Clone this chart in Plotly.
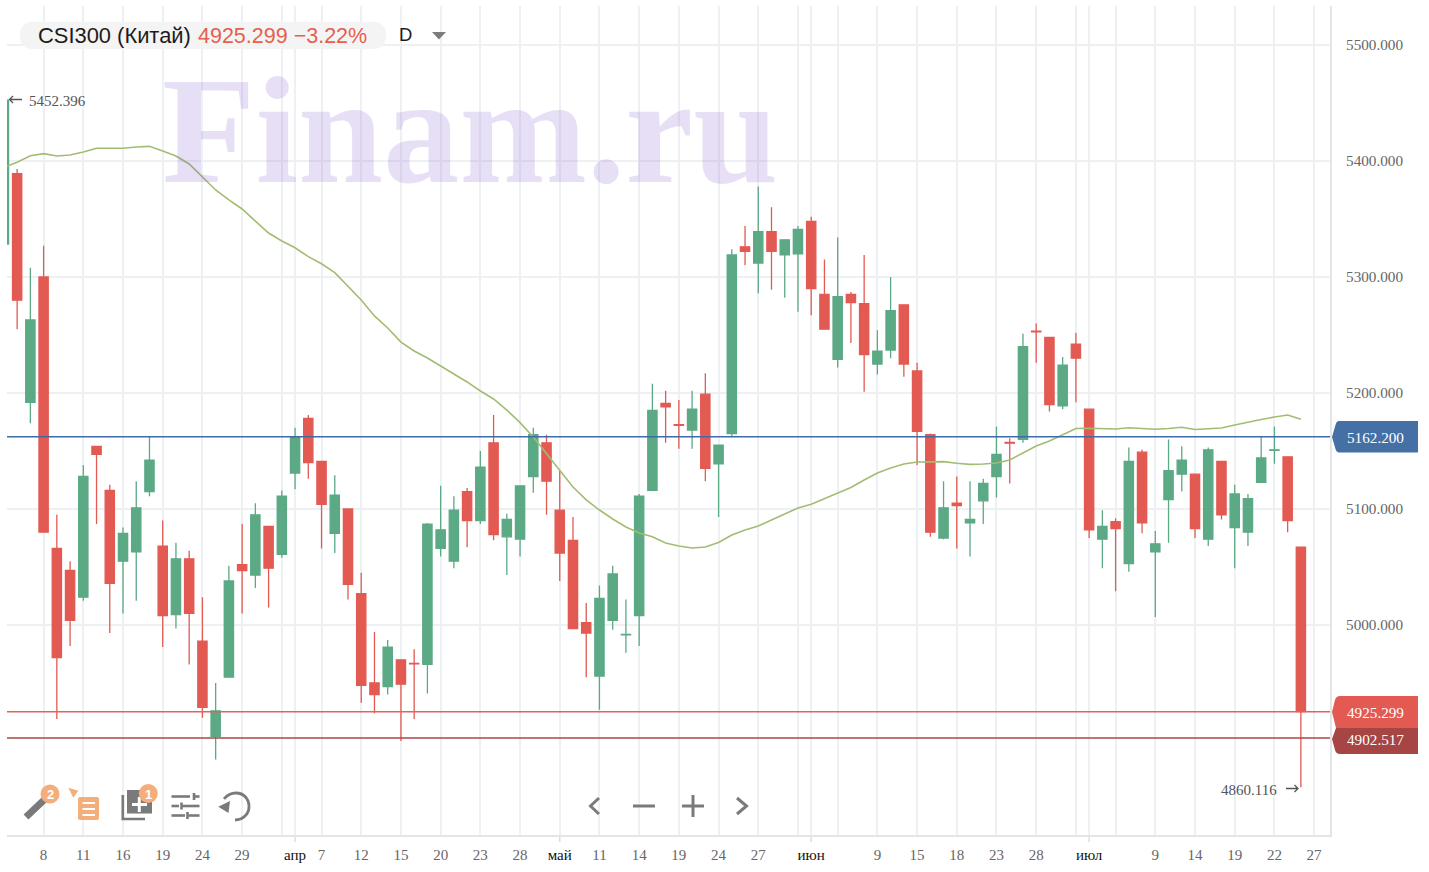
import plotly.graph_objects as go

opens = [5328.4,5389,5192,5300,5066,5047,5024,5154,5116,5055,5063,5115,5068,5009,5057,4986,4904,4955,5052,5043,5085,5061,5131,5178,5141,5079,5100,
 5027,4950,4947,4970,4967,4966,5066,5055,5115,5090,5157,5076,5074,5128,5157,5099,5073,5002,4956,5004,4991.5,5008,
 5116,5191,5172.8,5168,5199,5139,5165,5326,5312,5339,5319,5320,5348,5285,5229,5285,5277,5225,5237,5276,5219,5164,
 5075,5105,5088,5107,5128,5157.3,5160,5253.3,5248,5189,5242,5186,5074,5089,5053,5149,5063,5108,5130,5130,5074,5141,5084,5080,5123,5150.5,5145,5067]
highs = [5452.4,5393,5308,5327,5095,5055,5138,5154,5121,5084,5124,5162,5090,5071,5064,5024,4950,5051,5087,5105,5085,5116,5170,5181,5141,5129,5100,
 5045,4994,4987,4970,4979,5088,5120,5111,5118,5150,5181,5096,5120,5170,5164,5133,5093,5019,5034,5051,5022,5113,
 5208,5202,5194,5202,5217,5155,5324,5344,5378,5360,5332,5344,5352,5315,5334,5287,5319,5254,5300,5276,5226,5165,
 5124,5128,5124,5126,5171,5161,5251,5260,5248,5231,5252,5186,5099,5092,5153,5151,5081,5160,5154,5130,5153,5141,5121,5113,5162,5171,5145,5067]
lows = [5328.4,5255,5174,5080,4919,4982,5021,5087,4993,5010,5021,5111,4981,4997,4966,4920,4884,4955,5010,5032,5015,5058,5117,5126,5066,5062,5022,
 4933,4924,4940,4900,4919,4941,5059,5049,5067,5087,5073,5043,5059,5114,5095,5038,4997,4955,4927,4996,4976,4982,
 5116,5157,5152,5152,5124,5093,5162,5310,5286,5289,5282,5270,5267,5255,5222,5243,5201,5216,5230,5214,5138,5076,
 5074,5066,5059,5087,5110,5122,5157,5226,5184,5186,5192,5075,5049,5029,5046,5079,5007,5071,5115,5075,5068,5091,5049,5068,5123,5139,5080,4860.116]
closes = [5452.4,5280,5263,5080,4972,5004,5128,5147,5036,5079,5101,5142,5008,5057,5010,4929,4926,5038,5047,5095,5049,5111,5162,5140,5104,5112,5035,
 4948,4940,4981,4949,4966.5,5087,5082,5099,5090,5136,5078,5091,5120,5164,5124,5062,4997,4993,5023,5044,4992,5111,
 5185,5188,5172,5186,5135,5155,5319,5322,5339,5322,5332,5341,5290,5255,5283,5278,5233,5236,5271,5225,5167,5080,
 5101,5103,5091,5122,5147,5156.7,5240,5252.7,5190,5224,5230,5082,5085,5083,5141,5088,5070,5133,5142,5083,5151,5095,5113,5109,5144,5151,5090,4925.299]
ma = [5394.5,5398.9,5404.5,5406.3,5404.3,5405.1,5407.7,5410.9,5410.9,5410.9,5412,5412.6,5408.6,5404.3,5397.4,5386.4,5375,5366.4,5358.6,5348.2,5337.9,5331,5325.2,5317.5,5311.4,5303.7,5291.6,5280.2,
 5266.4,5256,5243.9,5236.2,5230.2,5223.3,5216.4,5209.5,5201.7,5194.8,5185.3,5174.4,5162,5147.4,5132.7,5119,5107.8,5099.1,5091.4,5084.5,5079.3,5076.1,5070.7,5068.1,5066.4,5067.2,5071.1,5077.6,5081.9,5085.3,5090.5,5095.7,5100.9,5104,5108.6,5113.5,5118.5,5125,5131,5135.3,5138.8,5140.5,5140.9,5140.8,5139.4,5138.5,5138.8,5139.6,5142.2,5148.3,5154.3,5158.6,5163.8,5169.4,5169.6,5169.2,5169,5170,5169.4,5168.7,5169.4,5170.4,5168.5,5169,5169.8,5172.4,5175,5177.1,5179.3,5181,5177.3]

tick_idx = [3,6,9,12,15,18,21,22,24,27,30,33,36,39,42,45,48,51,54,57,60,61,63,66,69,72,75,78,81,82,84,87,90,93,96,99]
tick_txt = ["8","11","16","19","24","29","","апр","7","12","15","20","23","28","май","11","14","19","24","27","","июн","","9","15","18","23","28","","июл","","9","14","19","22","27"]
month_idx = [22,42,61,82]
y_ticks = [5000,5100,5200,5300,5400,5500]
last_price, level_low, level_high = 4925.299, 4902.517, 5162.200
max_price, min_price = 5452.396, 4860.116
title_name, title_quote, period = "CSI300 (Китай)", "4925.299 −3.22%", "D"

RED, GREEN = "#E25A52", "#5BA985"
GRAY = "#7A7A7A"
ORANGE = "#F3AE7C"
L, R, T, B = 7, 1330, 6, 835
SERIF = "Liberation Serif"
SANS = "Liberation Sans"

def X(px): return (px - L) / (R - L)
def Y(px): return 1 - (px - T) / (B - T)

def svg(s):
    out, is_x = [], True
    for tok in s.split():
        if tok.isalpha():
            out.append(tok); is_x = True
        else:
            v = float(tok)
            out.append(f"{X(v):.5f}" if is_x else f"{Y(v):.5f}")
            is_x = not is_x
    return " ".join(out)

shapes, notes = [], []

def fill(s, color):
    shapes.append(dict(type="path", path=svg(s), xref="paper", yref="paper", fillcolor=color,
                       line=dict(width=0), layer="above"))

def stroke(s, color=GRAY, w=3):
    shapes.append(dict(type="path", path=svg(s), xref="paper", yref="paper", fillcolor="rgba(0,0,0,0)",
                       line=dict(width=w, color=color), layer="above"))

def text(x, y, t, size, color, family=SERIF, anchor="center"):
    notes.append(dict(x=X(x), y=Y(y), xref="paper", yref="paper", text=t, showarrow=False,
                      font=dict(size=size, color=color, family=family), xanchor=anchor, yanchor="middle",
                      borderpad=0, borderwidth=0))

def circle(cx, cy, r, color):
    shapes.append(dict(type="circle", xref="paper", yref="paper", x0=X(cx-r), x1=X(cx+r), y0=Y(cy+r), y1=Y(cy-r),
                       fillcolor=color, line=dict(width=0), layer="above"))

fig = go.Figure()
fig.add_trace(go.Scatter(x=list(range(len(ma))), y=ma, mode="lines", line=dict(color="#A3BC73", width=1.6), hoverinfo="skip"))
fig.add_trace(go.Candlestick(x=list(range(len(opens))), open=opens, high=highs, low=lows, close=closes,
    increasing=dict(line=dict(color=GREEN, width=1.3), fillcolor=GREEN),
    decreasing=dict(line=dict(color=RED, width=1.3), fillcolor=RED), hoverinfo="skip"))

# month separators
for m in month_idx:
    shapes.append(dict(type="line", xref="x", yref="paper", x0=m, x1=m, y0=Y(842), y1=1, layer="below",
                       line=dict(color="#D9DFE0", width=1.5)))

# price levels
for lvl, col in [(level_high, "#3F6BA9"), (last_price, "#E2625C"), (level_low, "#AB4646")]:
    shapes.append(dict(type="line", xref="paper", yref="y", x0=0, x1=1, y0=lvl, y1=lvl, layer="above",
                       line=dict(color=col, width=1.5)))

# right-hand price tags
fill("M 1339 421 L 1418 421 L 1418 452.5 L 1339 452.5 Q 1336.5 452.5 1335.5 449 L 1332 437 L 1335.5 425 Q 1336.5 421 1339 421 Z", "#4470A6")
fill("M 1338 728 L 1418 728 L 1418 754 L 1340 754 Q 1336 754 1335 750 L 1332 739 L 1336 728 Z", "#A64543")
fill("M 1340 696 L 1418 696 L 1418 728 L 1336 728 L 1332 712 L 1335 700 Q 1336 696 1340 696 Z", "#E25A52")
text(1375, 437, f"{level_high:.3f}", 15.2, "white")
text(1375, 712.5, f"{last_price:.3f}", 15.2, "white")
text(1375, 739, f"{level_low:.3f}", 15.2, "white")

# watermark
text(470, 130, "<b>Finam.ru</b>", 153, "rgba(125,85,200,0.19)")

# header
fill("M 33 22 L 373 22 Q 386 22 386 35.5 Q 386 49 373 49 L 33 49 Q 20 49 20 35.5 Q 20 22 33 22 Z", "#F4F4F4")
text(38, 35.5, title_name, 21.9, "#1c1c1c", SANS, "left")
text(198, 35.5, title_quote, 21.5, "#E5604F", SANS, "left")
text(405, 35, period, 18.5, "#1c1c1c", SANS)
fill("M 432 32 L 446 32 L 439 39.5 Z", "#7c7c7c")

# extremes
text(29, 100.5, f"{max_price:.3f}", 15, "#555555", SERIF, "left")
text(1221, 789.5, f"{min_price:.3f}", 15, "#555555", SERIF, "left")
stroke("M 22 99.5 L 9.5 99.5 M 13 96 L 9.5 99.5 L 13 103", "#555555", 1.3)
stroke("M 1286 788.5 L 1298 788.5 M 1294.5 785 L 1298 788.5 L 1294.5 792", "#555555", 1.3)

# toolbar: pencil
stroke("M 26 817 L 44 800", GRAY, 7)
circle(50, 794, 9.5, ORANGE)
text(50, 794.5, "<b>2</b>", 13, "white", SANS)
# list
fill("M 68.3 787.7 L 78.3 790.7 L 73.3 797.7 Z", ORANGE)
fill("M 80 797 L 97 797 Q 99 797 99 799 L 99 818 Q 99 820 97 820 L 80 820 Q 78 820 78 818 L 78 799 Q 78 797 80 797 Z", ORANGE)
for yy in (803, 809, 815):
    fill(f"M 82.5 {yy-1} L 95 {yy-1} L 95 {yy+1} L 82.5 {yy+1} Z", "white")
# add overlay
fill("M 127 790 L 152 790 L 152 813.5 L 127 813.5 Z", GRAY)
fill("M 137.8 797 L 140.8 797 L 140.8 803 L 147 803 L 147 806 L 140.8 806 L 140.8 812 L 137.8 812 L 137.8 806 L 132 806 L 132 803 L 137.8 803 Z", "white")
stroke("M 122.8 795 L 122.8 819 L 145 819", GRAY, 2.7)
circle(148.3, 793.5, 9.5, ORANGE)
text(148.3, 794, "<b>1</b>", 13, "white", SANS)
# sliders
for s in ("M 171.5 796.5 L 190 796.5", "M 195 796.5 L 199.5 796.5", "M 171.5 806 L 179 806", "M 182 806 L 199.5 806",
          "M 171.5 815.5 L 185 815.5", "M 188.5 815.5 L 199.5 815.5", "M 194 793 L 194 800", "M 181.5 802.5 L 181.5 809.5", "M 187.5 812 L 187.5 819"):
    stroke(s, GRAY, 2.6)
# undo
stroke("M 224 799 C 228 794 232 793 236 793 C 244 793 249 799 249 806.7 C 249 814 243 820 235 820", GRAY, 2.8)
fill("M 218.3 806.7 L 230 801 L 228.5 813 Z", GRAY)
# navigation
stroke("M 599 798 L 590.5 806 L 599 814", GRAY, 3)
stroke("M 633 806 L 655 806", GRAY, 3)
stroke("M 682 806 L 704 806", GRAY, 3)
stroke("M 693 795 L 693 817", GRAY, 3)
stroke("M 737 798 L 746.5 806 L 737 814", GRAY, 3)

def tick_label(t):
    if t in ("апр", "май", "июн", "июл"):
        return f'<span style="color:#111">{t}</span>'
    return t

fig.update_layout(
    width=1429, height=872, autosize=False, showlegend=False, plot_bgcolor="white", paper_bgcolor="white",
    margin=dict(l=L, r=1429-R, t=T, b=872-B, pad=0, autoexpand=False),
    boxgap=0.3, boxgroupgap=0, shapes=shapes, annotations=notes, hovermode=False,
    xaxis=dict(range=[0.234, 100.2], rangeslider=dict(visible=False), tickmode="array", tickvals=tick_idx,
               ticktext=[tick_label(t) for t in tick_txt], tickangle=0, showgrid=True, gridcolor="#EEF1F3", gridwidth=1.5,
               ticks="outside", ticklen=5, tickcolor="rgba(0,0,0,0)", tickfont=dict(family=SERIF, size=15, color="#666666"),
               showline=True, linecolor="#E3E5E8", linewidth=2, zeroline=False),
    yaxis=dict(range=[5000-(B-625)*0.862, 5000+(625-T)*0.862], side="right", tickmode="array", tickvals=y_ticks, tickformat=".3f",
               showgrid=True, gridcolor="#EEF1F3", gridwidth=1.5, ticks="outside", ticklen=11, tickcolor="rgba(0,0,0,0)",
               tickfont=dict(family=SERIF, size=15.2, color="#666666"), showline=True, linecolor="#E3E5E8", linewidth=2, zeroline=False),
)
fig.write_html("out.html", config=dict(displayModeBar=False),
               post_script="document.body.style.margin='0';document.body.style.overflow='hidden';")
